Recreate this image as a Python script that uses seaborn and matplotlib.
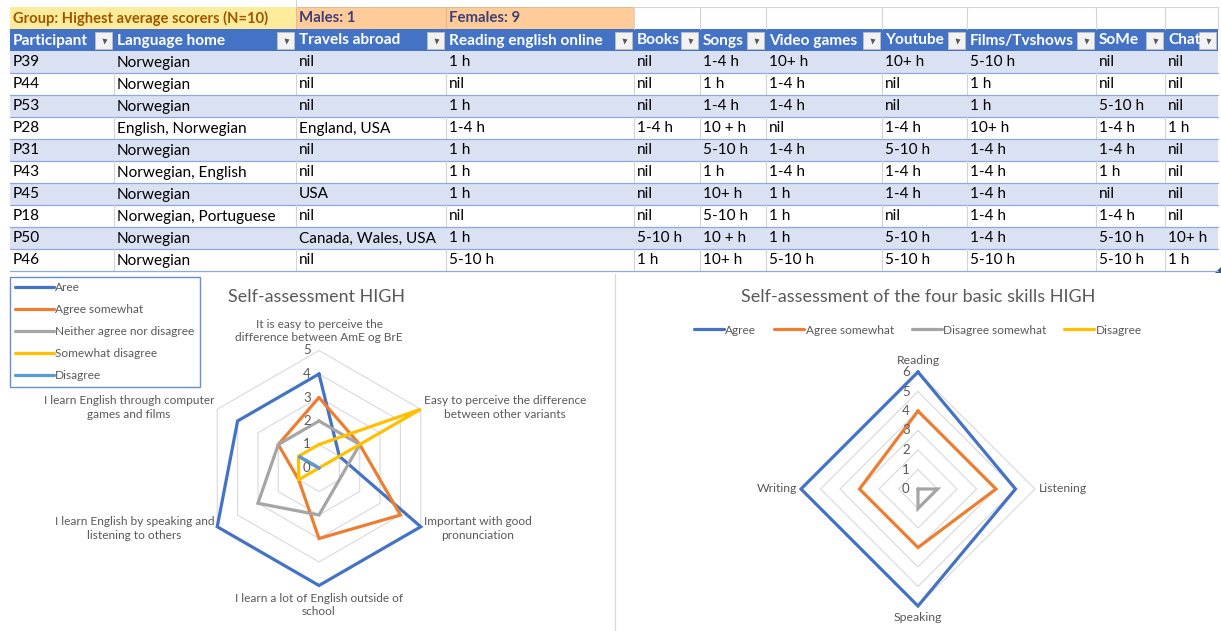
import numpy as np
import pandas as pd
import matplotlib
matplotlib.use("Agg")
import matplotlib.pyplot as plt
import seaborn as sns
from matplotlib.patches import Rectangle, Polygon
from matplotlib.lines import Line2D

sns.set_theme(style="white")
plt.rcParams["font.family"] = ["Lato", "DejaVu Sans"]

# ---------------- table data ----------------
group_label = "Group: Highest average scorers (N=10)"
males_label = "Males: 1"
females_label = "Females: 9"
headers = ["Participant", "Language home", "Travels abroad", "Reading english online",
           "Books", "Songs", "Video games", "Youtube", "Films/Tvshows", "SoMe", "Chat"]
participants = ["P39", "P44", "P53", "P28", "P31", "P43", "P45", "P18", "P50", "P46"]
language_home = ["Norwegian", "Norwegian", "Norwegian", "English, Norwegian", "Norwegian",
                 "Norwegian, English", "Norwegian", "Norwegian, Portuguese", "Norwegian", "Norwegian"]
travels_abroad = ["nil", "nil", "nil", "England, USA", "nil", "nil", "USA", "nil",
                  "Canada, Wales, USA", "nil"]
reading_online = ["1 h", "nil", "1 h", "1-4 h", "1 h", "1 h", "1 h", "nil", "1 h", "5-10 h"]
books = ["nil", "nil", "nil", "1-4 h", "nil", "nil", "nil", "nil", "5-10 h", "1 h"]
songs = ["1-4 h", "1 h", "1-4 h", "10 + h", "5-10 h", "1 h", "10+ h", "5-10 h", "10 + h", "10+ h"]
video_games = ["10+ h", "1-4 h", "1-4 h", "nil", "1-4 h", "1-4 h", "1 h", "1 h", "1 h", "5-10 h"]
youtube = ["10+ h", "nil", "nil", "1-4 h", "5-10 h", "1-4 h", "1-4 h", "nil", "5-10 h", "5-10 h"]
films_tv = ["5-10 h", "1 h", "1 h", "10+ h", "1-4 h", "1-4 h", "1-4 h", "1-4 h", "1-4 h", "5-10 h"]
some = ["nil", "nil", "5-10 h", "1-4 h", "1-4 h", "1 h", "nil", "1-4 h", "5-10 h", "5-10 h"]
chat = ["nil", "nil", "nil", "1 h", "nil", "nil", "nil", "nil", "10+ h", "1 h"]

# ---------------- radar data: statements ----------------
statements = ["It is easy to perceive the\ndifference between AmE og BrE",
              "Easy to perceive the difference\nbetween other variants",
              "Important with good\npronunciation",
              "I learn a lot of English outside of\nschool",
              "I learn English by speaking and\nlistening to others",
              "I learn English through computer\ngames and films"]
statement_series = ["Aree", "Agree somewhat", "Neither agree nor disagree",
                    "Somewhat disagree", "Disagree"]
aree = [4, 1, 5, 5, 5, 4]
agree_somewhat = [3, 2, 4, 3, 1, 2]
neither = [2, 2, 1, 2, 3, 2]
somewhat_disagree = [1, 5, 0, 0, 1, 1]
disagree = [0, 0, 0, 0, 0, 1]

# ---------------- radar data: four skills ----------------
skills = ["Reading", "Listening", "Speaking", "Writing"]
skill_series = ["Agree", "Agree somewhat", "Disagree somewhat", "Disagree"]
skill_agree = [6, 5, 6, 6]
skill_agree_somewhat = [4, 4, 3, 3]
skill_disagree_somewhat = [0, 1, 1, 0]
skill_disagree = [0, 0, 0, 0]

EXCEL_BLUE = "#4472C4"
EXCEL_ORANGE = "#ED7D31"
EXCEL_GRAY = "#A5A5A5"
EXCEL_YELLOW = "#FFC000"
EXCEL_LIGHTBLUE = "#5B9BD5"
TXT = "#595959"

W, H = 1221, 631
fig = plt.figure(figsize=(W / 100, H / 100), dpi=100)
fig.patch.set_facecolor("white")

# pixel-space canvas for the worksheet table
tab = fig.add_axes([0, 0, 1, 1], zorder=0)
tab.set_xlim(0, W)
tab.set_ylim(H, 0)
tab.axis("off")

col_edges = [10, 114, 296, 446, 634, 700, 766, 882, 967, 1096, 1165, 1218]
row_top, group_bottom, header_bottom, row_h = 7, 29, 51, 22
table_font = 11.1

columns = [participants, language_home, travels_abroad, reading_online, books, songs,
           video_games, youtube, films_tv, some, chat]


def cell_text(x0, x1, yc, s, **kw):
    t = tab.text(x0 + 3, yc, s, va="center", ha="left", fontsize=table_font, **kw)
    clip = Rectangle((x0, yc - 11), x1 - x0, 22, transform=tab.transData)
    t.set_clip_path(clip)
    return t


# group row
tab.add_patch(Rectangle((col_edges[0], row_top), col_edges[2] - col_edges[0],
                        group_bottom - row_top, facecolor="#FFEB9C", edgecolor="none"))
for c0, c1 in [(2, 3), (3, 4)]:
    tab.add_patch(Rectangle((col_edges[c0], row_top), col_edges[c1] - col_edges[c0],
                            group_bottom - row_top, facecolor="#FFCC99",
                            edgecolor="#E0B488", lw=0.6))
gy = (row_top + group_bottom) / 2 + 0.5
tab.text(col_edges[0] + 3, gy, group_label, va="center", fontsize=10.6,
         fontweight="bold", color="#9C5700")
tab.text(col_edges[2] + 3, gy, males_label, va="center", fontsize=10.8,
         fontweight="bold", color="#3F3F76")
tab.text(col_edges[3] + 3, gy, females_label, va="center", fontsize=10.8,
         fontweight="bold", color="#3F3F76")
for x in col_edges[4:]:
    tab.plot([x, x], [row_top, group_bottom], color="#D4D4D4", lw=0.8)
tab.plot([col_edges[4], col_edges[-1]], [row_top, row_top], color="#D4D4D4", lw=0.8)
tab.plot([col_edges[2], col_edges[2]], [0, row_top], color="#D4D4D4", lw=0.8)

# header row
tab.add_patch(Rectangle((col_edges[0], group_bottom), col_edges[-1] - col_edges[0],
                        header_bottom - group_bottom, facecolor=EXCEL_BLUE, edgecolor="none"))
hy = (group_bottom + header_bottom) / 2 + 0.5
for i, h in enumerate(headers):
    x0, x1 = col_edges[i], col_edges[i + 1]
    t = tab.text(x0 + 3, hy, h, va="center", ha="left", fontsize=table_font,
                 fontweight="bold", color="white")
    t.set_clip_path(Rectangle((x0, group_bottom), x1 - x0 - 20, 22, transform=tab.transData))
    bx = x1 - 19
    tab.add_patch(Rectangle((bx, group_bottom + 3), 17, 17, facecolor="#F2F2F2",
                            edgecolor="#BFBFBF", lw=0.6))
    tab.plot(bx + 8.5, group_bottom + 11.5, marker="v", ms=3.6, color="#595959", mec="none")

# body rows
for r in range(len(participants)):
    y0 = header_bottom + r * row_h
    if r % 2 == 0:
        tab.add_patch(Rectangle((col_edges[0], y0), col_edges[-1] - col_edges[0], row_h,
                                facecolor="#D9E1F2", edgecolor="none"))
    else:
        for x in col_edges[1:-1]:
            tab.plot([x, x], [y0, y0 + row_h], color="#D4D4D4", lw=0.8)
    tab.plot([col_edges[0], col_edges[-1]], [y0 + row_h, y0 + row_h], color="#8EA9DB", lw=0.9)
    for c, col in enumerate(columns):
        cell_text(col_edges[c], col_edges[c + 1], y0 + row_h / 2 + 0.5, col[r], color="black")

# table resize handle and chart divider
tab.add_patch(Polygon([(1215, 273), (1221, 273), (1221, 267)], closed=True,
                      facecolor="#2F5597", edgecolor="none"))
tab.plot([615, 615], [274, H], color="#D9D9D9", lw=0.9)


def radar(rect, labels, series, values, colors, rmax, label_r, label_fs):
    ax = fig.add_axes(rect, projection="polar", zorder=2)
    ax.set_facecolor("none")
    ax.set_theta_zero_location("N")
    ax.set_theta_direction(-1)
    n = len(labels)
    theta = np.linspace(0, 2 * np.pi, n, endpoint=False)
    closed = np.append(theta, 2 * np.pi)
    rows = []
    for name, vals in zip(series, values):
        for t, v in zip(closed, list(vals) + [vals[0]]):
            rows.append({"series": name, "theta": t, "value": v})
    df = pd.DataFrame(rows)
    # polygonal grid rings
    for k in range(1, rmax + 1):
        ax.plot(closed, [k] * (n + 1), color="#D9D9D9", lw=0.8, zorder=1)
    sns.lineplot(data=df, x="theta", y="value", hue="series", hue_order=series,
                 palette=dict(zip(series, colors)), sort=False, estimator=None,
                 lw=2.3, legend=False, ax=ax, solid_joinstyle="miter", zorder=3)
    for ln in ax.lines:
        ln.set_clip_on(False)
    ax.set_ylim(0, rmax)
    ax.grid(False)
    ax.spines["polar"].set_visible(False)
    ax.set_xticks([])
    ax.set_yticks([])
    ax.set_xlabel("")
    ax.set_ylabel("")
    for k in range(0, rmax + 1):
        ax.annotate(str(k), xy=(0, k), xytext=(-6, 0), textcoords="offset points",
                    ha="right", va="center", fontsize=9.5, color=TXT, annotation_clip=False)
    for t, lab in zip(theta, labels):
        deg = np.degrees(t) % 360
        if np.isclose(deg, 0):
            ha, va = "center", "bottom"
        elif np.isclose(deg, 180):
            ha, va = "center", "top"
        elif deg < 180:
            ha, va = "left", "center"
        else:
            ha, va = "right", "center"
        ax.text(t, label_r[0] if va != "center" else label_r[1], lab, ha=ha, va=va,
                multialignment="center", fontsize=label_fs, color=TXT, linespacing=1.3)
    return ax


# left radar: statements
left_rect = [(319 - 117.5) / W, (H - 468 - 117.5) / H, 235 / W, 235 / H]
radar(left_rect, statements, statement_series,
      [aree, agree_somewhat, neither, somewhat_disagree, disagree],
      [EXCEL_BLUE, EXCEL_ORANGE, EXCEL_GRAY, EXCEL_YELLOW, EXCEL_LIGHTBLUE],
      5, (5.3, 5.15), 8.6)
fig.text(317 / W, 1 - 297 / H, "Self-assessment HIGH", ha="center", va="center",
         fontsize=12.9, color=TXT)

left_handles = [Line2D([], [], color=c, lw=2.3) for c in
                [EXCEL_BLUE, EXCEL_ORANGE, EXCEL_GRAY, EXCEL_YELLOW, EXCEL_LIGHTBLUE]]
leg = fig.legend(left_handles, statement_series, loc="upper left",
                 bbox_to_anchor=(10 / W, 1 - 277 / H), fontsize=8.6, frameon=True,
                 fancybox=False, edgecolor=EXCEL_BLUE, handlelength=3.2,
                 handletextpad=0.12, labelspacing=0.92, borderpad=0.45, borderaxespad=0)
leg.get_frame().set_linewidth(1.0)
for tx in leg.get_texts():
    tx.set_color(TXT)

# right radar: four skills
right_rect = [(918 - 117) / W, (H - 489 - 117) / H, 234 / W, 234 / H]
radar(right_rect, skills, skill_series,
      [skill_agree, skill_agree_somewhat, skill_disagree_somewhat, skill_disagree],
      [EXCEL_BLUE, EXCEL_ORANGE, EXCEL_GRAY, EXCEL_YELLOW],
      6, (6.3, 6.2), 8.8)
fig.text(918 / W, 1 - 297 / H, "Self-assessment of the four basic skills HIGH",
         ha="center", va="center", fontsize=13, color=TXT)
right_handles = [Line2D([], [], color=c, lw=2.3) for c in
                 [EXCEL_BLUE, EXCEL_ORANGE, EXCEL_GRAY, EXCEL_YELLOW]]
leg2 = fig.legend(right_handles, skill_series, loc="center",
                  bbox_to_anchor=(918 / W, 1 - 330 / H), ncol=4, fontsize=8.6,
                  frameon=False, handlelength=2.5, handletextpad=0.12, columnspacing=1.5)
for tx in leg2.get_texts():
    tx.set_color(TXT)

fig.savefig("out.png", dpi=100, facecolor="white")
